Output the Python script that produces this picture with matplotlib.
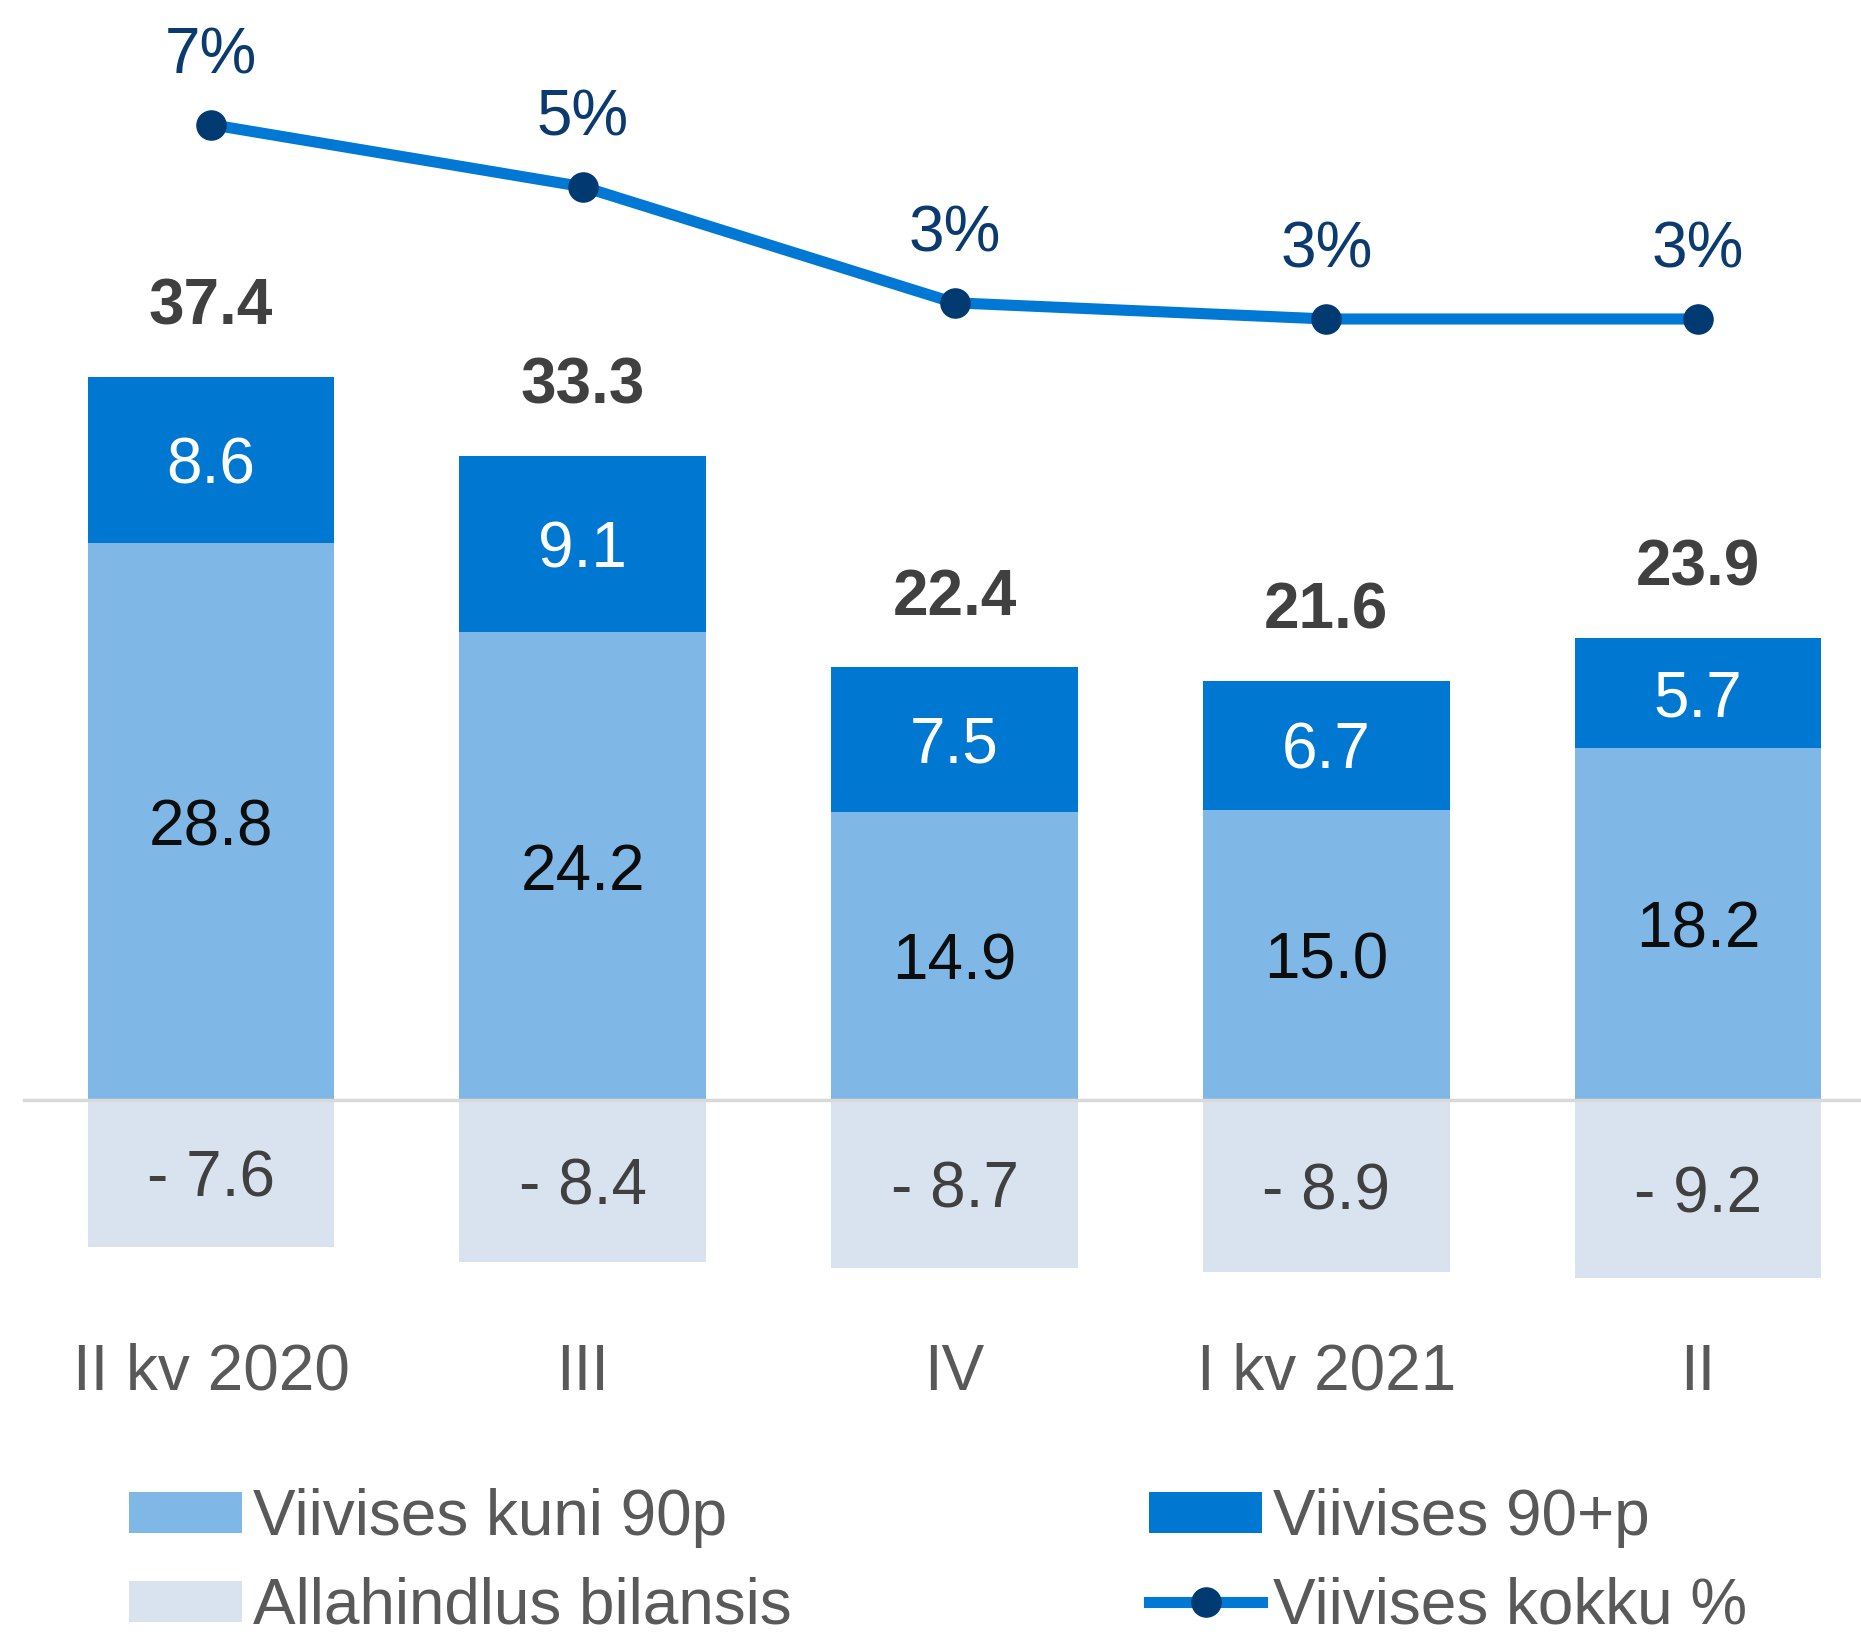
import numpy as np
from matplotlib import pyplot as plt

plt.rcParams['font.family'] = ['Liberation Sans', 'DejaVu Sans']

# data
quarters = ['II kv 2020', 'III', 'IV', 'I kv 2021', 'II']
upto90 = [28.8, 24.2, 14.9, 15.0, 18.2]
over90 = [8.6, 9.1, 7.5, 6.7, 5.7]
totals = [37.4, 33.3, 22.4, 21.6, 23.9]
allowance = [-7.6, -8.4, -8.7, -8.9, -9.2]
total_pct = [6.6, 5.45, 3.3, 3.0, 3.0]

c_light = '#7FB8E6'
c_dark = '#0077D0'
c_allow = '#D9E3F0'
c_line = '#0078D4'
c_marker = '#003A70'
c_text = '#595959'

W, H = 1861, 1639
fig = plt.figure(figsize=(W / 100, H / 100), dpi=100)
ax = fig.add_axes([0, (H - 1290) / H, 1, 1250 / H])

x = np.arange(len(quarters))
bw = 0.664

b1 = ax.bar(x, upto90, bw, color=c_light, label='Viivises kuni 90p', zorder=2)
b2 = ax.bar(x, over90, bw, bottom=upto90, color=c_dark, label='Viivises 90+p', zorder=2)
b3 = ax.bar(x, allowance, bw, color=c_allow, label='Allahindlus bilansis', zorder=2)
ax.axhline(0, xmin=24 / W, xmax=1, color='#D9D9D9', lw=2.5, zorder=3)

fs = 46
for i in range(len(x)):
    ax.text(x[i], upto90[i] / 2, f'{upto90[i]:.1f}', ha='center', va='center_baseline',
            fontsize=fs, color='#0D0D0D', zorder=4)
    ax.text(x[i], upto90[i] + over90[i] / 2, f'{over90[i]:.1f}', ha='center',
            va='center_baseline', fontsize=fs, color='white', zorder=4)
    ax.text(x[i], allowance[i] / 2, f'- {abs(allowance[i]):.1f}', ha='center',
            va='center_baseline', fontsize=fs, color='#404040', zorder=4)
    ax.annotate(f'{totals[i]:.1f}', (x[i], upto90[i] + over90[i]), xytext=(0, 50),
                textcoords='offset points', ha='center', va='center',
                fontsize=fs, fontweight='bold', color='#404040')

ax.set_xlim(-211 / 371.75, 4 + (W - 1698) / 371.75)
ax.set_ylim(-(1290 - 1100) / 19.33, (1100 - 40) / 19.33)
ax.set_xticks(x, quarters, fontsize=fs, color=c_text)
ax.tick_params(axis='x', length=0, pad=38)
ax.set_yticks([])
for s in ax.spines.values():
    s.set_visible(False)

ax2 = ax.twinx()
ax2.set_position(ax.get_position())
l1, = ax2.plot(x, total_pct, color=c_line, lw=8, marker='o', markersize=21,
               markerfacecolor=c_marker, markeredgecolor=c_marker,
               label='Viivises kokku %', zorder=5)
for i in range(len(x)):
    ax2.annotate(f'{total_pct[i]:.0f}%', (x[i], total_pct[i]), xytext=(0, 49),
                 textcoords='offset points', ha='center', va='center',
                 fontsize=fs, color='#0A3A6E')
ax2.set_ylim(-(1290 - 481) / 54, (481 - 40) / 54)
ax2.set_yticks([])
for s in ax2.spines.values():
    s.set_visible(False)

leg = fig.legend([b1, b3, b2, l1],
                 ['Viivises kuni 90p', 'Allahindlus bilansis', 'Viivises 90+p', 'Viivises kokku %'],
                 ncol=2, loc='upper left', bbox_to_anchor=(129 / W, 1 - 1488 / H),
                 frameon=False, fontsize=fs, handlelength=1.77, handleheight=0.6,
                 handletextpad=0.17, columnspacing=5.6, labelspacing=0.45,
                 borderaxespad=0, borderpad=0)
for t in leg.get_texts():
    t.set_color(c_text)

fig.savefig('out.png', dpi=100)
